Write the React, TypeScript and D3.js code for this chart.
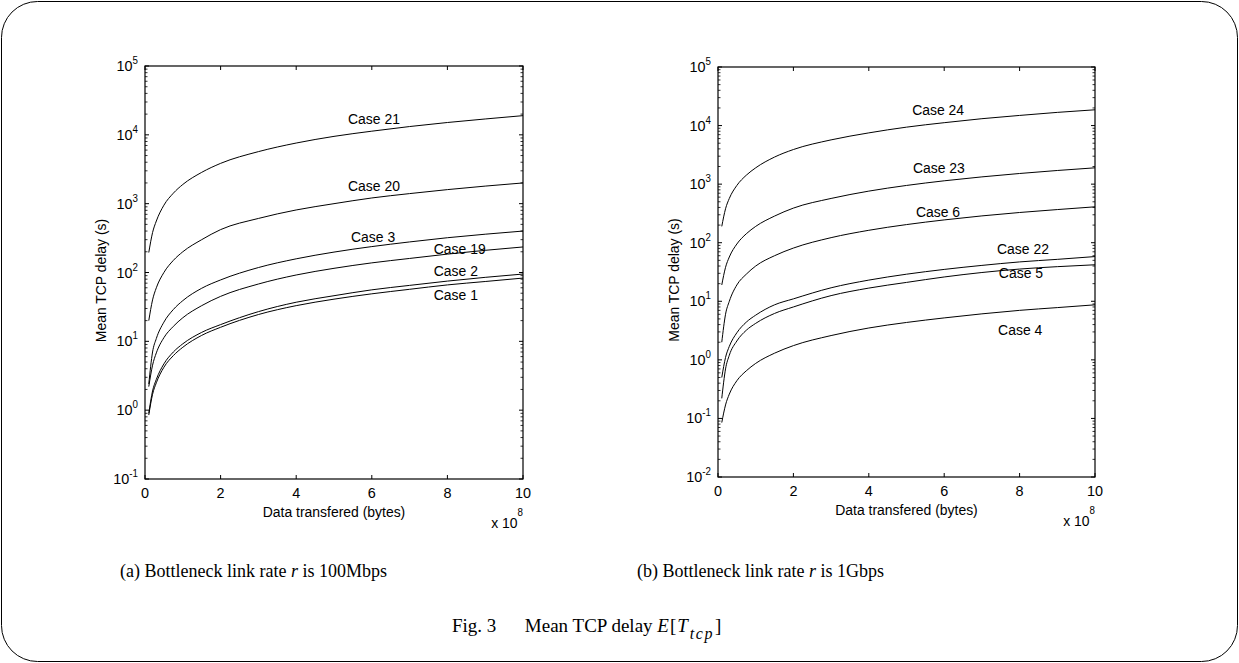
import React from 'react'
import * as d3 from 'd3'

// data transferred, in units of 1e8 bytes
const xs = [0.1, 0.2, 0.3, 0.5, 0.75, 1, 1.5, 2, 3, 4, 5, 6, 7, 8, 9, 10]

// (a) 100Mbps
const case21 = [195, 380, 560, 950, 1420, 1900, 2850, 3850, 5700, 7600, 9500, 11300, 13200, 15100, 17000, 19000]
const case20 = [20, 40, 60, 100, 150, 200, 300, 420, 610, 810, 1000, 1210, 1400, 1600, 1800, 2000]
const case3 = [2.4, 7, 11, 19, 29, 39, 59, 78, 118, 158, 198, 238, 278, 320, 360, 400]
const case19 = [2.2, 4.5, 6.8, 11.3, 16.5, 22, 33, 45, 68, 92, 115, 138, 160, 185, 210, 235]
const case2 = [0.9, 1.9, 2.8, 4.7, 7, 9.2, 13.5, 17.5, 27, 37, 46, 56, 65, 75, 85, 95]
const case1 = [0.85, 1.7, 2.5, 4.2, 6.2, 8.2, 12.2, 16, 24.5, 33, 41, 49, 57, 66, 74, 83]

// (b) 1Gbps
const case24 = [190, 380, 570, 950, 1420, 1900, 2900, 3900, 5700, 7500, 9400, 11200, 13100, 14900, 16800, 18600]
const case23 = [19, 38, 57, 95, 142, 190, 285, 390, 570, 760, 950, 1140, 1330, 1520, 1710, 1900]
const case6 = [2.0, 6, 10, 19, 29, 40, 60, 81, 122, 163, 204, 245, 287, 328, 368, 410]
const case22 = [0.5, 1.1, 1.7, 2.9, 4.4, 5.8, 8.7, 11, 17, 23, 29, 35, 41, 47, 52, 58]
const case5 = [0.22, 0.7, 1.2, 2.1, 3.2, 4.2, 6.2, 8, 12.5, 16.8, 21, 26, 31, 35.5, 39, 42]
const case4 = [0.085, 0.17, 0.26, 0.44, 0.65, 0.87, 1.3, 1.75, 2.6, 3.5, 4.35, 5.2, 6.1, 7, 7.8, 8.7]

const namesA = ['Case 21', 'Case 20', 'Case 3', 'Case 19', 'Case 2', 'Case 1']
const seriesA = [case21, case20, case3, case19, case2, case1]
// where each name sits: [x, value] of the text's left end / baseline
const labelAtA = [[5.37, 14400], [5.37, 1520], [5.45, 275], [7.64, 187], [7.64, 89], [7.64, 40]]

const namesB = ['Case 24', 'Case 23', 'Case 6', 'Case 22', 'Case 5', 'Case 4']
const seriesB = [case24, case23, case6, case22, case5, case4]
const labelAtB = [[5.15, 15200], [5.17, 1550], [5.25, 275], [7.4, 64], [7.45, 25], [7.43, 2.7]]

const xTicks = [0, 2, 4, 6, 8, 10]
const expA = [-1, 0, 1, 2, 3, 4, 5]
const expB = [-2, -1, 0, 1, 2, 3, 4, 5]

const SANS = 'Liberation Sans, Arial, Helvetica, sans-serif'
const SERIF = 'Liberation Serif, Times New Roman, serif'
const SX = 0.93 // the original text is a little narrow

const Panel = ({ left, right, top, bottom, exps, names, series, labelAt }) => {
  const x = d3.scaleLinear().domain([0, 10]).range([left, right])
  const y = d3
    .scaleLog()
    .domain([Math.pow(10, exps[0]), Math.pow(10, exps[exps.length - 1])])
    .range([bottom, top])
  const line = d3
    .line()
    .x((d) => x(d[0]))
    .y((d) => y(d[1]))
    .curve(d3.curveMonotoneX)

  // minor log ticks 2..9 in every decade
  const minor = []
  for (let i = 0; i < exps.length - 1; i++) {
    for (let m = 2; m <= 9; m++) minor.push(m * Math.pow(10, exps[i]))
  }

  return (
    <g>
      {series.map((s, i) => (
        <path
          key={i}
          d={line(xs.map((v, j) => [v, s[j]]))}
          fill="none"
          stroke="#000"
          strokeWidth={1}
        />
      ))}

      {/* box */}
      <rect
        x={left}
        y={top}
        width={right - left}
        height={bottom - top}
        fill="none"
        stroke="#000"
        strokeWidth={1.2}
      />

      {/* x ticks, bottom and top, pointing in */}
      {xTicks.map((t) => (
        <g key={'x' + t}>
          <line x1={x(t)} x2={x(t)} y1={bottom} y2={bottom - 4} stroke="#000" />
          <line x1={x(t)} x2={x(t)} y1={top} y2={top + 4} stroke="#000" />
          <text
            transform={`translate(${x(t)},${bottom + 19}) scale(${SX},1)`}
            textAnchor="middle"
            fontSize={15.5}
            fontFamily={SANS}
          >
            {t}
          </text>
        </g>
      ))}

      {/* y major ticks */}
      {exps.map((e) => {
        const yy = y(Math.pow(10, e))
        return (
          <g key={'y' + e}>
            <line x1={left} x2={left + 4} y1={yy} y2={yy} stroke="#000" />
            <line x1={right} x2={right - 4} y1={yy} y2={yy} stroke="#000" />
            <text
              transform={`translate(${left - 7},${yy + 5}) scale(${SX},1)`}
              textAnchor="end"
              fontSize={15.5}
              fontFamily={SANS}
            >
              10
              <tspan dy={-7} fontSize={10.5}>
                {e}
              </tspan>
            </text>
          </g>
        )
      })}
      {minor.map((v, i) => (
        <g key={'m' + i}>
          <line x1={left} x2={left + 2.5} y1={y(v)} y2={y(v)} stroke="#000" strokeWidth={0.8} />
          <line x1={right} x2={right - 2.5} y1={y(v)} y2={y(v)} stroke="#000" strokeWidth={0.8} />
        </g>
      ))}

      {/* axis titles */}
      <text
        transform={`translate(${(left + right) / 2},${bottom + 38}) scale(${SX},1)`}
        textAnchor="middle"
        fontSize={15}
        fontFamily={SANS}
      >
        Data transfered (bytes)
      </text>
      <text
        transform={`translate(${right},${bottom + 49}) scale(${SX},1)`}
        textAnchor="end"
        fontSize={15}
        fontFamily={SANS}
      >
        x 10
        <tspan dy={-12} fontSize={10.5}>
          8
        </tspan>
      </text>
      <text
        transform={`translate(${left - 39},${(top + bottom) / 2 + 8}) rotate(-90) scale(${SX},1)`}
        textAnchor="middle"
        fontSize={15}
        fontFamily={SANS}
      >
        Mean TCP delay (s)
      </text>

      {/* case names */}
      {names.map((n, i) => (
        <text
          key={n}
          transform={`translate(${x(labelAt[i][0])},${y(labelAt[i][1])}) scale(${SX},1)`}
          fontSize={15}
          fontFamily={SANS}
        >
          {n}
        </text>
      ))}
    </g>
  )
}

export default function App() {
  return (
    <div style={{ position: 'absolute', left: 0, top: 0 }}>
      <svg width={1239} height={663} style={{ display: 'block', background: '#fff' }}>
        <rect x={1.5} y={1.5} width={1236} height={660} rx={36} ry={36} fill="#fff" stroke="#000" strokeWidth={1} />

        <Panel
          left={145}
          right={523}
          top={66}
          bottom={479}
          exps={expA}
          names={namesA}
          series={seriesA}
          labelAt={labelAtA}
        />
        <Panel
          left={718}
          right={1095}
          top={67}
          bottom={477}
          exps={expB}
          names={namesB}
          series={seriesB}
          labelAt={labelAtB}
        />

        <text x={120} y={577} fontSize={18} fontFamily={SERIF}>
          (a) Bottleneck link rate <tspan fontStyle="italic">r</tspan>  is 100Mbps
        </text>
        <text x={637} y={577} fontSize={18} fontFamily={SERIF}>
          (b) Bottleneck link rate <tspan fontStyle="italic">r</tspan>  is 1Gbps
        </text>
        <text x={452} y={632} fontSize={19} fontFamily={SERIF}>
          Fig. 3{'\u2003\u2002'}Mean TCP delay{' '}
          <tspan fontStyle="italic">E</tspan>
          <tspan dx={1}>[</tspan>
          <tspan fontStyle="italic" dx={1}>T</tspan>
          <tspan fontStyle="italic" fontSize={16} dy={7} dx={2} letterSpacing={1.5}>
            tcp
          </tspan>
          <tspan dy={-7} dx={1}>]</tspan>
        </text>
      </svg>
    </div>
  )
}
